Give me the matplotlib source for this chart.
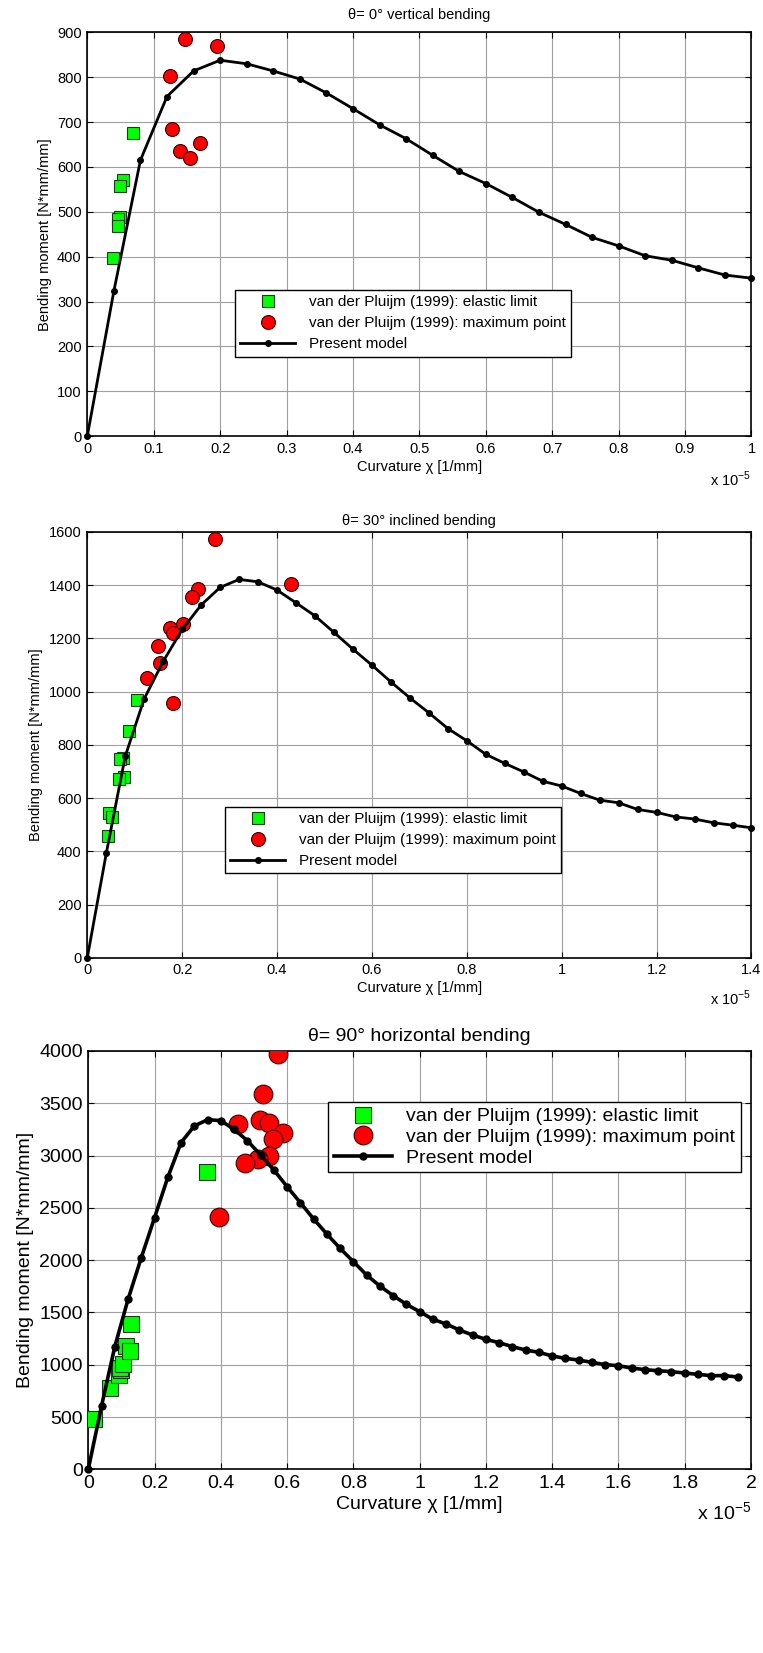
import numpy as np
import matplotlib.pyplot as plt
from matplotlib.ticker import FuncFormatter, MultipleLocator

plt.rcParams['font.family'] = ['Liberation Sans', 'DejaVu Sans']

# curvature values are in units of 1e-5 1/mm
# theta = 0 deg, vertical bending
model0_x = [0, 0.04, 0.08, 0.12, 0.16, 0.20, 0.24, 0.28, 0.32, 0.36, 0.40, 0.44, 0.48,
            0.52, 0.56, 0.60, 0.64, 0.68, 0.72, 0.76, 0.80, 0.84, 0.88, 0.92, 0.96, 1.00]
model0_y = [0, 323, 615, 757, 814, 838, 830, 814, 796, 765, 730, 694, 663,
            626, 590, 563, 532, 499, 472, 443, 424, 402, 392, 375, 359, 352]
elastic0_x = [0.0687, 0.0535, 0.0495, 0.0495, 0.046, 0.046, 0.0394]
elastic0_y = [675, 571, 557, 489, 484, 469, 398]
max0_x = [0.147, 0.1955, 0.124, 0.128, 0.139, 0.154, 0.170]
max0_y = [886, 870, 802, 684, 635, 620, 654]

# theta = 30 deg, inclined bending
model30_x = [0, 0.04, 0.08, 0.12, 0.16, 0.20, 0.24, 0.28, 0.32, 0.36, 0.40, 0.44, 0.48,
             0.52, 0.56, 0.60, 0.64, 0.68, 0.72, 0.76, 0.80, 0.84, 0.88, 0.92, 0.96,
             1.00, 1.04, 1.08, 1.12, 1.16, 1.20, 1.24, 1.28, 1.32, 1.36, 1.40]
model30_y = [0, 392, 757, 973, 1113, 1233, 1325, 1391, 1421, 1412, 1381, 1333, 1284,
             1222, 1159, 1099, 1036, 976, 920, 861, 815, 764, 730, 698, 663,
             645, 617, 592, 582, 557, 546, 529, 521, 507, 498, 488]
elastic30_x = [0.104, 0.088, 0.076, 0.069, 0.078, 0.067, 0.046, 0.053, 0.043]
elastic30_y = [968, 851, 749, 745, 680, 670, 542, 530, 458]
max30_x = [0.270, 0.429, 0.234, 0.220, 0.201, 0.175, 0.180, 0.150, 0.154, 0.126, 0.180]
max30_y = [1571, 1403, 1386, 1355, 1254, 1238, 1218, 1171, 1106, 1052, 957]

# theta = 90 deg, horizontal bending
model90_x = [0, 0.04, 0.08, 0.12, 0.16, 0.20, 0.24, 0.28, 0.32, 0.36, 0.40, 0.44, 0.48,
             0.52, 0.56, 0.60, 0.64, 0.68, 0.72, 0.76, 0.80, 0.84, 0.88, 0.92, 0.96,
             1.00, 1.04, 1.08, 1.12, 1.16, 1.20, 1.24, 1.28, 1.32, 1.36, 1.40, 1.44,
             1.48, 1.52, 1.56, 1.60, 1.64, 1.68, 1.72, 1.76, 1.80, 1.84, 1.88, 1.92, 1.96]
model90_y = [0, 606, 1173, 1625, 2024, 2406, 2792, 3124, 3283, 3343, 3334, 3251, 3143,
             3006, 2862, 2703, 2550, 2394, 2250, 2113, 1986, 1858, 1753, 1661, 1578,
             1508, 1434, 1390, 1332, 1284, 1243, 1211, 1173, 1141, 1119, 1084, 1061,
             1045, 1023, 1001, 991, 969, 953, 943, 934, 921, 908, 896, 896, 883]
elastic90_x = [0.016, 0.065, 0.094, 0.099, 0.097, 0.105, 0.115, 0.125, 0.129, 0.357]
elastic90_y = [484, 775, 902, 950, 966, 1007, 1179, 1135, 1393, 2843]
max90_x = [0.572, 0.527, 0.453, 0.519, 0.544, 0.588, 0.557, 0.544, 0.513, 0.472, 0.394]
max90_y = [3974, 3587, 3305, 3341, 3308, 3218, 3156, 2995, 2969, 2928, 2410]

lab_el = 'van der Pluijm (1999): elastic limit'
lab_mx = 'van der Pluijm (1999): maximum point'
lab_md = 'Present model'

fig = plt.figure(figsize=(7.63, 16.53), dpi=100)

small_leg = dict(borderpad=0.35, labelspacing=0.45, handlelength=3.6, handletextpad=0.9)
big_leg = dict(borderpad=0.3, labelspacing=0.15, handlelength=3.0, handletextpad=0.7)

panels = [
    dict(rect=[0.1144, 0.7362, 0.8705, 0.2442], title=u'\u03b8= 0\u00b0 vertical bending',
         mx=model0_x, my=model0_y, ex=elastic0_x, ey=elastic0_y, px=max0_x, py=max0_y,
         xmax=1.0, xstep=0.1, ymax=900, ystep=100, fs=10.5, lfs=11, ms_sq=8.5, ms_c=10,
         lw=2.0, dot=4, leg=(0.2224, 0.3617), lk=small_leg, x10y=-0.107, tpad=10),
    dict(rect=[0.1144, 0.4206, 0.8705, 0.2577], title=u'\u03b8= 30\u00b0 inclined bending',
         mx=model30_x, my=model30_y, ex=elastic30_x, ey=elastic30_y, px=max30_x, py=max30_y,
         xmax=1.4, xstep=0.2, ymax=1600, ystep=200, fs=10.5, lfs=11, ms_sq=8.5, ms_c=10,
         lw=2.0, dot=4, leg=(0.2073, 0.3538), lk=small_leg, x10y=-0.095, tpad=5),
    dict(rect=[0.1157, 0.1111, 0.8685, 0.2531], title=u'\u03b8= 90\u00b0 horizontal bending',
         mx=model90_x, my=model90_y, ex=elastic90_x, ey=elastic90_y, px=max90_x, py=max90_y,
         xmax=2.0, xstep=0.2, ymax=4000, ystep=500, fs=14, lfs=14, ms_sq=11.5, ms_c=13.5,
         lw=2.6, dot=5, leg=(0.3617, 0.878), lk=big_leg, x10y=-0.104, tpad=7),
]

fmt = FuncFormatter(lambda v, p: '%g' % round(v, 6))

for P in panels:
    ax = fig.add_axes(P['rect'])
    fs = P['fs']
    ax.plot(P['ex'], P['ey'], 's', color='#00ff00', mec='#1a3a1a', mew=0.8,
            ms=P['ms_sq'], label=lab_el, zorder=3)
    ax.plot(P['px'], P['py'], 'o', color='#ff0000', mec='#3a0000', mew=0.8,
            ms=P['ms_c'], label=lab_mx, zorder=3)
    ax.plot(P['mx'], P['my'], '-', color='black', lw=P['lw'], marker='o',
            ms=P['dot'], label=lab_md, zorder=4, clip_on=False)
    ax.set_xlim(0, P['xmax'])
    ax.set_ylim(0, P['ymax'])
    ax.xaxis.set_major_locator(MultipleLocator(P['xstep']))
    ax.yaxis.set_major_locator(MultipleLocator(P['ystep']))
    ax.xaxis.set_major_formatter(fmt)
    ax.yaxis.set_major_formatter(fmt)
    ax.grid(True, color='#a0a0a0', lw=0.8)
    ax.set_axisbelow(True)
    ax.tick_params(direction='in', top=True, right=True, length=4, width=0.8,
                   labelsize=fs, pad=4)
    for s in ax.spines.values():
        s.set_linewidth(1.2)
    ax.set_title(P['title'], fontsize=fs, pad=P['tpad'])
    ax.set_xlabel(u'Curvature \u03c7 [1/mm]', fontsize=fs, labelpad=3)
    ax.set_ylabel('Bending moment [N*mm/mm]', fontsize=fs, labelpad=4)
    ax.text(1.0, P['x10y'], r'x 10$^{\mathregular{-5}}$', transform=ax.transAxes,
            ha='right', va='center', fontsize=fs)
    leg = ax.legend(loc='upper left', bbox_to_anchor=P['leg'], fontsize=P['lfs'],
                    fancybox=False, framealpha=1, edgecolor='black',
                    borderaxespad=0, **P['lk'])
    leg.get_frame().set_linewidth(1.0)

fig.savefig('out.png', dpi=100)
